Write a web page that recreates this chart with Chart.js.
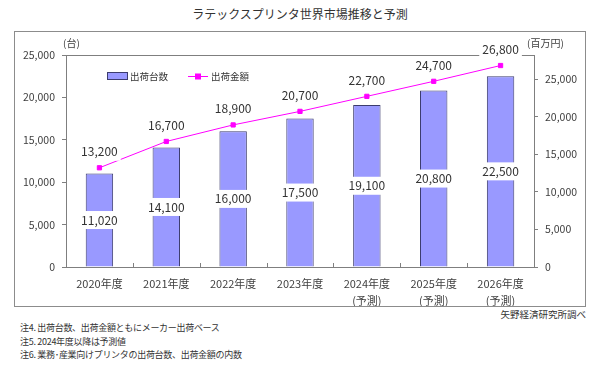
<!DOCTYPE html>
<html>
<head>
<meta charset="utf-8">
<title>ラテックスプリンタ世界市場推移と予測</title>
<style>
  body { margin: 0; width: 600px; height: 367px; background: #fff; position: relative; overflow: hidden;
         font-family: "Noto Sans CJK JP", sans-serif; color: #333; }
  .title { position: absolute; top: 5px; left: 0; width: 600px; text-align: center; font-size: 12px; }
  .frame { position: absolute; left: 14px; top: 31px; width: 570px; height: 274px; border: 1px solid #8c8c8c; }
  .frame canvas { display: block; }
  .unit { position: absolute; top: 35px; font-size: 10px; color: #404040; }
  .source { position: absolute; right: 14px; top: 307px; font-size: 9.5px; }
  .notes { position: absolute; left: 20px; top: 321px; font-size: 9px; line-height: 13.5px; letter-spacing: -0.3px; }
</style>
<script src="https://cdn.jsdelivr.net/npm/chart.js@4.4.1/dist/chart.umd.min.js"></script>
</head>
<body>
<div class="title">ラテックスプリンタ世界市場推移と予測</div>
<div class="frame"><canvas id="chart" width="570" height="274"></canvas></div>
<div class="unit" style="left:63px">(台)</div>
<div class="unit" style="left:527px">(百万円)</div>
<div class="source">矢野経済研究所調べ</div>
<div class="notes">
  注4.&nbsp;出荷台数、出荷金額ともにメーカー出荷ベース<br>
  注5.&nbsp;2024年度以降は予測値<br>
  注6.&nbsp;業務･産業向けプリンタの出荷台数、出荷金額の内数
</div>
<script>
const years = ['2020年度', '2021年度', '2022年度', '2023年度',
               ['2024年度', '(予測)'], ['2025年度', '(予測)'], ['2026年度', '(予測)']];
const units = [11020, 14100, 16000, 17500, 19100, 20800, 22500];   // 出荷台数 (台)
const sales = [13200, 16700, 18900, 20700, 22700, 24700, 26800];   // 出荷金額 (百万円)
const unitMax = 25000;
const salesMax = 28200;
const tickStep = 5000;
const salesTicks = [0, 5000, 10000, 15000, 20000, 25000];

const axisColor = '#7f7f7f';
const textColor = '#404040';
const barColor = '#9999ff';
const barBorder = '#3c3c6e';
const lineColor = '#ff00ff';

function labelBox(ctx, text, x, y) {
    const w = ctx.measureText(text).width + 6;
    ctx.fillStyle = '#fff';
    ctx.fillRect(x - w / 2, y - 9, w, 18);
    ctx.fillStyle = '#333';
    ctx.fillText(text, x, y);
}

const decor = {
    id: 'decor',
    beforeDatasetsDraw(chart) {
        const {ctx, chartArea: a, scales: {x}} = chart;
        ctx.save();
        ctx.strokeStyle = axisColor;
        ctx.lineWidth = 1;
        ctx.beginPath();
        ctx.moveTo(a.left, a.top + 0.5);
        ctx.lineTo(a.right, a.top + 0.5);
        // x tick marks pointing into the plot, between categories
        for (let i = 1; i < years.length; i++) {
            const px = Math.round((x.getPixelForValue(i - 1) + x.getPixelForValue(i)) / 2) + 0.5;
            ctx.moveTo(px, a.bottom);
            ctx.lineTo(px, a.bottom - 4);
        }
        ctx.stroke();
        ctx.restore();
    },
    afterDatasetsDraw(chart) {
        const {ctx, chartArea: a} = chart;
        ctx.save();
        ctx.font = '12px "Noto Sans CJK JP"';
        ctx.textAlign = 'center';
        ctx.textBaseline = 'middle';
        chart.getDatasetMeta(0).data.forEach((el, i) => {
            labelBox(ctx, units[i].toLocaleString('en-US'), el.x, (el.y + el.base) / 2);
        });
        chart.getDatasetMeta(1).data.forEach((el, i) => {
            labelBox(ctx, sales[i].toLocaleString('en-US'), el.x, el.y - 16);
        });

        // legend inside plot
        const ly = a.top + 21;
        const lx = a.left + 41;
        ctx.fillStyle = barColor;
        ctx.fillRect(lx, ly - 3, 20, 6);
        ctx.strokeStyle = barBorder;
        ctx.lineWidth = 1;
        ctx.strokeRect(lx + 0.5, ly - 3.5, 20, 7);
        ctx.strokeStyle = lineColor;
        ctx.beginPath();
        ctx.moveTo(lx + 81, ly + 0.5);
        ctx.lineTo(lx + 101, ly + 0.5);
        ctx.stroke();
        ctx.fillStyle = lineColor;
        ctx.fillRect(lx + 88, ly - 2.5, 6, 6);
        ctx.font = '9.5px "Noto Sans CJK JP"';
        ctx.textAlign = 'left';
        ctx.fillStyle = '#333';
        ctx.fillText('出荷台数', lx + 23, ly + 0.5);
        ctx.fillText('出荷金額', lx + 104, ly + 0.5);
        ctx.restore();
    }
};

new Chart(document.getElementById('chart'), {
    data: {
        labels: years,
        datasets: [{
            type: 'bar',
            label: '出荷台数',
            data: units,
            yAxisID: 'y',
            backgroundColor: barColor,
            borderColor: barBorder,
            borderWidth: 1,
            barPercentage: 0.41,
            categoryPercentage: 1,
            order: 2
        }, {
            type: 'line',
            label: '出荷金額',
            data: sales,
            yAxisID: 'y2',
            borderColor: lineColor,
            borderWidth: 1,
            backgroundColor: lineColor,
            pointStyle: 'rect',
            pointRadius: 3,
            tension: 0,
            order: 1
        }]
    },
    options: {
        responsive: false,
        animation: false,
        layout: {padding: {top: 23, left: 0, right: 0, bottom: 0}},
        plugins: {legend: {display: false}, tooltip: {enabled: false}},
        scales: {
            x: {
                offset: true,
                grid: {display: false},
                border: {display: true, color: axisColor},
                ticks: {
                    color: textColor,
                    font: {family: '"Noto Sans CJK JP"', size: 11, lineHeight: 1.55},
                    padding: 0,
                    maxRotation: 0,
                    autoSkip: false
                },
                afterFit(s) { s.height = 39; }
            },
            y: {
                position: 'left',
                min: 0,
                max: unitMax,
                grid: {display: true, drawOnChartArea: false, drawTicks: true, tickLength: 4, color: axisColor},
                border: {display: true, color: axisColor},
                ticks: {
                    stepSize: tickStep,
                    color: textColor,
                    padding: 7,
                    font: {family: '"Noto Sans CJK JP"', size: 10.5},
                    callback: v => v.toLocaleString('en-US')
                },
                afterFit(s) { s.width = 51; }
            },
            y2: {
                position: 'right',
                min: 0,
                max: salesMax,
                grid: {display: true, drawOnChartArea: false, drawTicks: true, tickLength: 4, color: axisColor},
                border: {display: true, color: axisColor},
                ticks: {
                    autoSkip: false,
                    color: textColor,
                    padding: 7,
                    font: {family: '"Noto Sans CJK JP"', size: 10.5},
                    callback: v => v.toLocaleString('en-US')
                },
                afterBuildTicks(s) { s.ticks = salesTicks.map(v => ({value: v})); },
                afterFit(s) { s.width = 51; }
            }
        }
    },
    plugins: [decor]
});
</script>
</body>
</html>
